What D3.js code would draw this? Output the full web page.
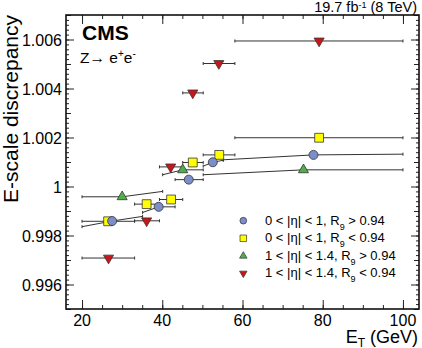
<!DOCTYPE html>
<html>
<head>
<meta charset="utf-8">
<script src="https://cdn.jsdelivr.net/npm/d3@7"></script>
<style>
  body { margin: 0; background: #fff; }
  svg { display: block; font-family: 'Liberation Sans', Arial, sans-serif; }
</style>
</head>
<body>
<script>
// tick values
const xTicks = [20, 40, 60, 80, 100];
const yTicks = [0.996, 0.998, 1, 1.002, 1.004, 1.006];

// legend labels (|eta| range, R9 cut)
const legendEta = ['0 < |η| < 1', '0 < |η| < 1', '1 < |η| < 1.4', '1 < |η| < 1.4'];
const legendCut = ['> 0.94', '< 0.94', '> 0.94', '< 0.94'];

// 0 < |eta| < 1, R9 > 0.94
const blueEt = [27.5, 39.1, 46.6, 52.6, 77.7];
const blueVal = [0.99859, 0.99917, 1.00028, 1.00099, 1.00129];
const blueLo = [20, 35.1, 43.2, 50.2, 55.2];
const blueHi = [35.1, 43.2, 50.2, 55.2, 100];
const blueLeftEnd = [0.99836, 0.99894, 1.00028, 1.00083, 1.00109];
const blueRightEnd = [0.99878, 0.99917, 1.00028, 1.00107, 1.00132];

// 0 < |eta| < 1, R9 < 0.94
const yellowEt = [26.5, 36.1, 42.2, 47.6, 54.2, 79.1];
const yellowVal = [0.99858, 0.99928, 0.99947, 1.00098, 1.00129, 1.00199];
const yellowLo = [20, 33.1, 39.3, 45.1, 50.2, 58.1];
const yellowHi = [33.1, 39.3, 45.1, 50.2, 58.1, 100];

// 1 < |eta| < 1.4, R9 > 0.94
const greenEt = [30.0, 45.1, 75.2];
const greenVal = [0.99958, 1.00068, 1.00068];
const greenLo = [20, 40.1, 50.2];
const greenHi = [40.1, 50.2, 100];
const greenLeftEnd = [0.99958, 1.00048, 1.00048];
const greenRightEnd = [0.9998, 1.00068, 1.00068];

// 1 < |eta| < 1.4, R9 < 0.94
const redEt = [26.6, 36.1, 42.1, 47.6, 54.1, 79.1];
const redVal = [0.99708, 0.9986, 1.0008, 1.00382, 1.00502, 1.00594];
const redLo = [20, 33.1, 39.3, 45.1, 50.2, 58.1];
const redHi = [33.1, 39.3, 45.1, 50.2, 58.1, 100];

const svgWidth = 422;
const svgHeight = 348;
const frameLeft = 66;
const frameRight = 419;
const frameTop = 15;
const frameBottom = 309;

function toPoints(et, val, lo, hi, leftEnd, rightEnd) {
  return et.map((e, i) => ({
    et: e,
    val: val[i],
    lo: lo[i],
    hi: hi[i],
    left: leftEnd ? leftEnd[i] : val[i],
    right: rightEnd ? rightEnd[i] : val[i],
  }));
}

// drawing order: yellow, green, red, blue on top
const series = [
  { name: 'yellow', pts: toPoints(yellowEt, yellowVal, yellowLo, yellowHi), shape: d3.symbolSquare, size: 78, rot: 0, fill: '#ffff00', legend: 1 },
  { name: 'green', pts: toPoints(greenEt, greenVal, greenLo, greenHi, greenLeftEnd, greenRightEnd), shape: d3.symbolTriangle, size: 44, rot: 0, fill: '#4fb04a', legend: 2 },
  { name: 'red', pts: toPoints(redEt, redVal, redLo, redHi), shape: d3.symbolTriangle, size: 44, rot: 180, fill: '#c8161b', legend: 3 },
  { name: 'blue', pts: toPoints(blueEt, blueVal, blueLo, blueHi, blueLeftEnd, blueRightEnd), shape: d3.symbolCircle, size: 64, rot: 0, fill: '#7b8ec9', legend: 0 },
];

const xScale = d3.scaleLinear().domain([16, 104]).range([frameLeft, frameRight]);
const yScale = d3.scaleLinear().domain([0.995, 1.007]).range([frameBottom, frameTop]);

const svg = d3
  .select('body')
  .append('svg')
  .attr('width', svgWidth)
  .attr('height', svgHeight);

// ticks, all pointing inward
const xMinor = d3.range(20, 101, 5);
const yMinor = d3.range(0, 61).map((i) => 0.995 + i * 0.0002);
const yMid = [0.995, 0.997, 0.999, 1.001, 1.003, 1.005, 1.007];

function tickAxis(axis, values, size, translate) {
  svg
    .append('g')
    .attr('transform', translate)
    .call(axis.tickValues(values).tickSize(-size).tickFormat(''))
    .call((g) => g.select('.domain').remove())
    .call((g) => g.selectAll('line').attr('stroke', '#222').attr('stroke-width', 1));
}

tickAxis(d3.axisBottom(xScale), xTicks, 9, `translate(0,${frameBottom})`);
tickAxis(d3.axisBottom(xScale), xMinor, 4, `translate(0,${frameBottom})`);
tickAxis(d3.axisTop(xScale), xTicks, 9, `translate(0,${frameTop})`);
tickAxis(d3.axisTop(xScale), xMinor, 4, `translate(0,${frameTop})`);
tickAxis(d3.axisLeft(yScale), yTicks, 8, `translate(${frameLeft},0)`);
tickAxis(d3.axisLeft(yScale), yMid, 5, `translate(${frameLeft},0)`);
tickAxis(d3.axisLeft(yScale), yMinor, 3, `translate(${frameLeft},0)`);
tickAxis(d3.axisRight(yScale), yTicks, 8, `translate(${frameRight},0)`);
tickAxis(d3.axisRight(yScale), yMid, 5, `translate(${frameRight},0)`);
tickAxis(d3.axisRight(yScale), yMinor, 3, `translate(${frameRight},0)`);

// tick labels
svg
  .append('g')
  .attr('font-size', 16)
  .attr('text-anchor', 'middle')
  .selectAll('text')
  .data(xTicks)
  .join('text')
  .attr('x', (d) => xScale(d))
  .attr('y', 326)
  .text((d) => d);

svg
  .append('g')
  .attr('font-size', 16)
  .attr('text-anchor', 'end')
  .selectAll('text')
  .data(yTicks)
  .join('text')
  .attr('x', 62)
  .attr('y', (d) => yScale(d) + 6)
  .text((d) => (d === 1 ? '1' : d3.format('.3f')(d)));

// frame
svg
  .append('rect')
  .attr('x', frameLeft)
  .attr('y', frameTop)
  .attr('width', frameRight - frameLeft)
  .attr('height', frameBottom - frameTop)
  .attr('fill', 'none')
  .attr('stroke', '#111')
  .attr('stroke-width', 1.6);

// error bars (drawn through the marker)
const bars = svg.append('g').attr('stroke', '#333').attr('stroke-width', 1).attr('fill', 'none');
series.forEach((s) => {
  bars
    .append('g')
    .selectAll('path')
    .data(s.pts)
    .join('path')
    .attr('d', (d) =>
      d3.line()([
        [xScale(d.lo), yScale(d.left)],
        [xScale(d.et), yScale(d.val)],
        [xScale(d.hi), yScale(d.right)],
      ])
    );
  bars
    .append('g')
    .selectAll('path')
    .data(s.pts)
    .join('path')
    .attr('d', (d) =>
      `M${xScale(d.lo)},${yScale(d.left) - 1.5}v3M${xScale(d.hi)},${yScale(d.right) - 1.5}v3`
    );
});

// markers
series.forEach((s) => {
  svg
    .append('g')
    .selectAll('path')
    .data(s.pts)
    .join('path')
    .attr('transform', (d) => `translate(${xScale(d.et)},${yScale(d.val)}) rotate(${s.rot})`)
    .attr('d', d3.symbol(s.shape, s.size))
    .attr('fill', s.fill)
    .attr('stroke', '#333')
    .attr('stroke-width', 0.8);
});

// legend
const legendRowY = [220.7, 238.3, 256, 273.3];
const legend = svg.append('g');
series.forEach((s) => {
  const row = legendRowY[s.legend];
  legend
    .append('path')
    .attr('transform', `translate(243.3,${row}) rotate(${s.rot})`)
    .attr('d', d3.symbol(s.shape, s.size * 0.55))
    .attr('fill', s.fill)
    .attr('stroke', '#333')
    .attr('stroke-width', 0.7);
  const t = legend
    .append('text')
    .attr('x', 265)
    .attr('y', row + 4)
    .attr('font-size', 13);
  t.append('tspan').text(`${legendEta[s.legend]}, R`);
  t.append('tspan').attr('font-size', 9).attr('dy', 5).text('9');
  t.append('tspan').attr('dy', -5).text(` ${legendCut[s.legend]}`);
});

// CMS labels
svg
  .append('text')
  .attr('x', 82)
  .attr('y', 40)
  .attr('font-size', 21)
  .attr('font-weight', 'bold')
  .text('CMS');

const zText = svg.append('text').attr('x', 80).attr('y', 63).attr('font-size', 15.5);
zText.append('tspan').text('Z→ e');
zText.append('tspan').attr('font-size', 10).attr('dy', -6).text('+');
zText.append('tspan').attr('dy', 6).text('e');
zText.append('tspan').attr('font-size', 10).attr('dy', -6).text('-');

const lumi = svg
  .append('text')
  .attr('x', 417)
  .attr('y', 12)
  .attr('font-size', 14.5)
  .attr('text-anchor', 'end');
lumi.append('tspan').text('19.7 fb');
lumi.append('tspan').attr('font-size', 9).attr('dy', -4.5).text('-1');
lumi.append('tspan').attr('dy', 4.5).text(' (8 TeV)');

// axis titles
svg
  .append('text')
  .attr('transform', `translate(18,${frameTop}) rotate(-90)`)
  .attr('text-anchor', 'end')
  .attr('font-size', 21)
  .text('E-scale discrepancy');

const xTitle = svg
  .append('text')
  .attr('x', 418)
  .attr('y', 343)
  .attr('font-size', 18)
  .attr('text-anchor', 'end');
xTitle.append('tspan').text('E');
xTitle.append('tspan').attr('font-size', 12).attr('dy', 3.5).text('T');
xTitle.append('tspan').attr('dy', -3.5).text(' (GeV)');
</script>
</body>
</html>
